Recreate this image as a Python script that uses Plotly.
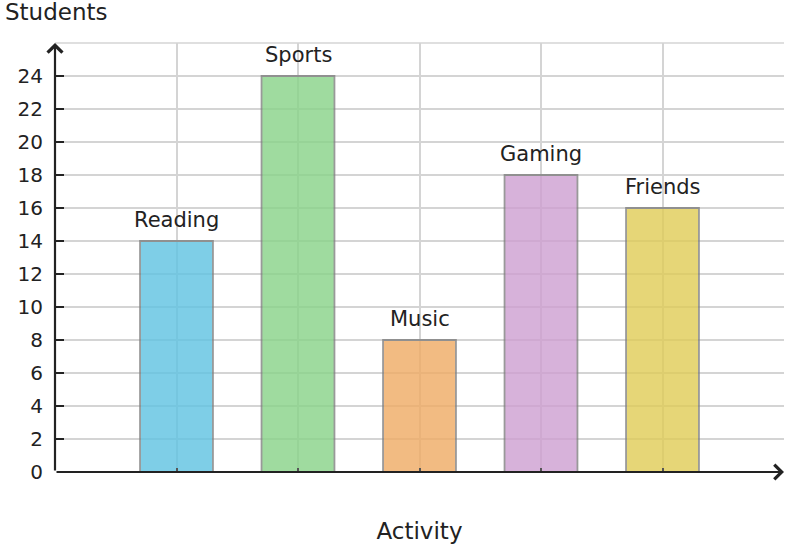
import plotly.graph_objects as go

# Data
activities = ["Reading", "Sports", "Music", "Gaming", "Friends"]
students = [14, 24, 8, 18, 16]
bar_colors = ["rgb(95,195,226)", "rgb(136,211,136)", "rgb(240,171,100)",
              "rgb(206,159,209)", "rgb(224,204,86)"]
y_ticks = list(range(0, 25, 2))

positions = list(range(1, len(activities) + 1))
font = "DejaVu Sans"
ink = "#222222"

fig = go.Figure()

fig.add_trace(go.Bar(
    x=positions, y=students, width=0.6,
    marker=dict(color=bar_colors, opacity=0.8,
                line=dict(color="#808080", width=1.8)),
    hoverinfo="skip", showlegend=False,
))

# labels above bars
for p, a, v in zip(positions, activities, students):
    fig.add_annotation(x=p, y=v, text=a, showarrow=False, yanchor="bottom",
                       yshift=7, font=dict(family=font, size=21, color=ink))

# axis arrows
fig.add_annotation(x=0, y=26, ax=0, ay=0, xref="x", yref="y", axref="x", ayref="y",
                   showarrow=True, arrowhead=4, arrowsize=1.3, arrowwidth=2.2,
                   arrowcolor=ink, text="")
fig.add_annotation(x=6, y=0, ax=0, ay=0, xref="x", yref="y", axref="x", ayref="y",
                   showarrow=True, arrowhead=4, arrowsize=1.3, arrowwidth=2.2,
                   arrowcolor=ink, text="")

# y axis title, horizontal at the top left
fig.add_annotation(x=0, y=1, xref="paper", yref="paper", xanchor="left",
                   yanchor="bottom", xshift=-52, yshift=16, text="Students",
                   showarrow=False, font=dict(family=font, size=23, color=ink))

# top border grid line
fig.add_shape(type="line", xref="paper", yref="paper", x0=0, x1=1, y0=1, y1=1,
              line=dict(color="#d4d4d4", width=1.5), layer="below")

fig.update_layout(
    width=788, height=548,
    margin=dict(l=55, r=4, t=43, b=76),
    plot_bgcolor="white", paper_bgcolor="white",
    font=dict(family=font, size=20, color=ink),
    bargap=0.4,
    xaxis=dict(range=[0, 6], dtick=1, tick0=0, showticklabels=False,
               showgrid=True, gridcolor="#d4d4d4", gridwidth=1.5,
               zeroline=False, showline=False, automargin=False,
               ticks="inside", ticklen=4, tickwidth=2, tickcolor="#555555",
               title=dict(text="Activity", font=dict(size=23), standoff=50)),
    yaxis=dict(range=[0, 26], tickvals=y_ticks, showgrid=True,
               gridcolor="#d4d4d4", gridwidth=1.5, zeroline=False, showline=False,
               automargin=False,
               ticks="inside", ticklen=9, tickwidth=2, tickcolor=ink,
               ticklabelstandoff=11),
)

# page has no body margin, so the figure sits at the window's corner
fig.write_html("out.html", config={"displayModeBar": False},
               post_script="document.body.style.margin='0';")
